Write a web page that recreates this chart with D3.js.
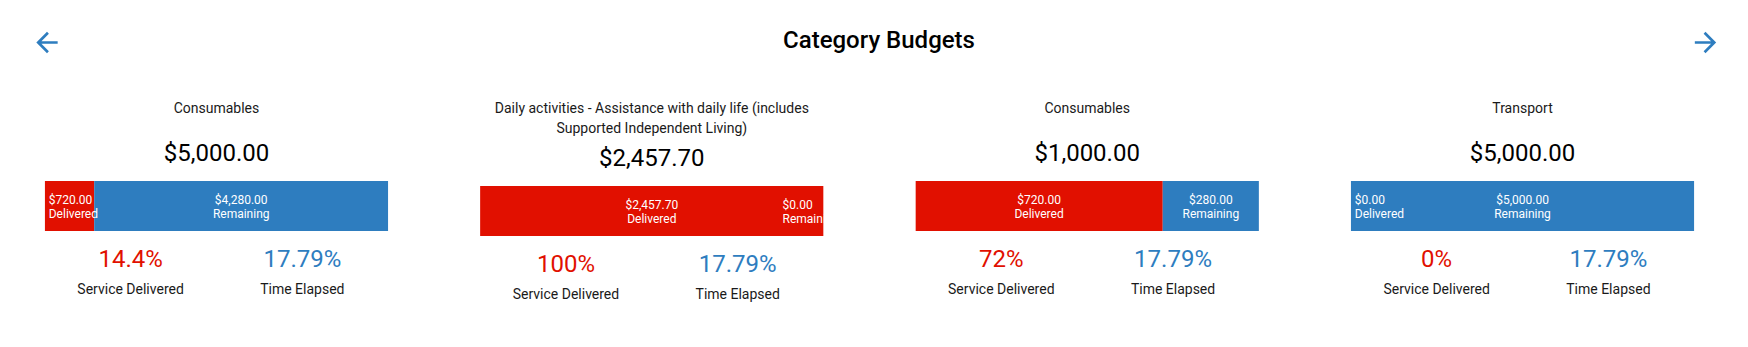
<!DOCTYPE html>
<html>
<head>
<meta charset="utf-8">
<script src="https://cdn.jsdelivr.net/npm/d3@7"></script>
<style>
  html, body { margin: 0; padding: 0; background: #fff; }
  svg { display: block; font-family: Roboto, "Noto Sans", sans-serif; }
</style>
</head>
<body>
<svg id="chart" width="1748" height="347"></svg>
<script>
// ---- data ----
const pageTitle = "Category Budgets";
const categories = [
  "Consumables",
  "Daily activities - Assistance with daily life (includes Supported Independent Living)",
  "Consumables",
  "Transport"
];
const budgets = [5000, 2457.70, 1000, 5000];
const delivered = [720, 2457.70, 720, 0];
const timeElapsed = [17.79, 17.79, 17.79, 17.79];
const statLabels = ["Service Delivered", "Time Elapsed"];
const segmentLabels = ["Delivered", "Remaining"];

// ---- styles ----
const RED = "#e11000";
const BLUE = "#2e7dbf";
const W = 1748, H = 347;

const svg = d3.select("#chart");
svg.append("rect").attr("width", W).attr("height", H).attr("fill", "#fff");

const money = d3.format("$,.2f");
const pct = v => (+(v).toFixed(2)) + "%";

// header
svg.append("text")
  .attr("x", 879).attr("y", 48)
  .attr("text-anchor", "middle")
  .attr("font-size", 24).attr("font-weight", 500)
  .attr("fill", "#000")
  .text(pageTitle);

// arrows (material icons, 24 unit path scaled to 32px)
const arrowBack = "M20 11H7.83l5.59-5.59L12 4l-8 8 8 8 1.41-1.41L7.83 13H20v-2z";
const arrowFwd = "M12 4l-1.41 1.41L16.17 11H4v2h12.17l-5.58 5.59L12 20l8-8z";
svg.append("path").attr("d", arrowBack).attr("fill", BLUE)
  .attr("transform", "translate(31,26.5) scale(1.333)");
svg.append("path").attr("d", arrowFwd).attr("fill", BLUE)
  .attr("transform", "translate(1689.5,26.5) scale(1.333)");

// panel layout
const panels = d3.scaleBand().domain(d3.range(categories.length)).range([-1.2, 1740.2]);
const barW = 343.5, barH = 50;

categories.forEach((cat, i) => {
  const cx = panels(i) + panels.bandwidth() / 2;
  const barL = cx - barW / 2, barR = cx + barW / 2;
  const x = d3.scaleLinear().domain([0, budgets[i]]).range([barL, barR]);
  const g = svg.append("g");

  // title with wrapping
  const t = g.append("text")
    .attr("text-anchor", "middle")
    .attr("font-size", 14).attr("fill", "#1a1a1a");
  const words = cat.split(" ");
  let lines = [], cur = [];
  const probe = t.append("tspan");
  words.forEach(w => {
    const test = cur.concat([w]).join(" ");
    probe.text(test);
    if (probe.node().getComputedTextLength() > barW && cur.length) {
      lines.push(cur.join(" "));
      cur = [w];
    } else cur.push(w);
  });
  lines.push(cur.join(" "));
  probe.remove();
  lines.forEach((ln, k) => {
    t.append("tspan").attr("x", cx).attr("y", 112.5 + k * 20).text(ln);
  });
  const shift = Math.max(lines.length * 20, 35) - 35;

  // amount
  g.append("text")
    .attr("x", cx).attr("y", 160.7 + shift)
    .attr("text-anchor", "middle")
    .attr("font-size", 24).attr("fill", "#000")
    .text(money(budgets[i]));

  // bar
  const top = 181 + shift;
  const clipId = "clip" + i;
  g.append("clipPath").attr("id", clipId)
    .append("rect").attr("x", barL).attr("y", top).attr("width", barW).attr("height", barH);

  const rem = budgets[i] - delivered[i];
  const segs = [
    { v0: 0, v1: delivered[i], color: RED, amount: delivered[i], name: segmentLabels[0] },
    { v0: delivered[i], v1: budgets[i], color: BLUE, amount: rem, name: segmentLabels[1] }
  ];
  const bars = g.append("g").attr("clip-path", `url(#${clipId})`);
  bars.selectAll("rect.seg").data(segs).join("rect")
    .attr("class", "seg")
    .attr("x", d => x(d.v0)).attr("y", top)
    .attr("width", d => Math.max(0, x(d.v1) - x(d.v0)))
    .attr("height", barH)
    .attr("fill", d => d.color);

  segs.forEach(d => {
    let b0 = x(d.v0), b1 = x(d.v1);
    const minW = 45;
    if (b1 - b0 < minW) {
      b1 = b0 + minW;
      if (b1 > barR) { b1 = barR; b0 = barR - minW; }
    }
    const lt = bars.append("text")
      .attr("font-size", 12).attr("fill", "#fff");
    const s1 = lt.append("tspan").attr("y", top + 22.5).text(money(d.amount));
    const s2 = lt.append("tspan").attr("y", top + 36.5).text(d.name);
    const maxW = Math.max(s1.node().getComputedTextLength(), s2.node().getComputedTextLength());
    const contentW = (b1 - b0) - 8;
    if (maxW > contentW) {
      lt.attr("text-anchor", "start");
      s1.attr("x", b0 + 4); s2.attr("x", b0 + 4);
    } else {
      const mid = (b0 + b1) / 2;
      lt.attr("text-anchor", "middle");
      s1.attr("x", mid); s2.attr("x", mid);
    }
  });

  // stats
  const stats = [
    { value: pct(delivered[i] / budgets[i] * 100), color: RED, label: statLabels[0] },
    { value: pct(timeElapsed[i]), color: BLUE, label: statLabels[1] }
  ];
  const sx = d3.scaleBand().domain([0, 1]).range([barL, barR]);
  stats.forEach((s, k) => {
    const scx = sx(k) + sx.bandwidth() / 2;
    g.append("text")
      .attr("x", scx).attr("y", 266.7 + shift)
      .attr("text-anchor", "middle")
      .attr("font-size", 24).attr("fill", s.color)
      .text(s.value);
    g.append("text")
      .attr("x", scx).attr("y", 294.2 + shift)
      .attr("text-anchor", "middle")
      .attr("font-size", 14).attr("fill", "#1a1a1a")
      .text(s.label);
  });
});
</script>
</body>
</html>
